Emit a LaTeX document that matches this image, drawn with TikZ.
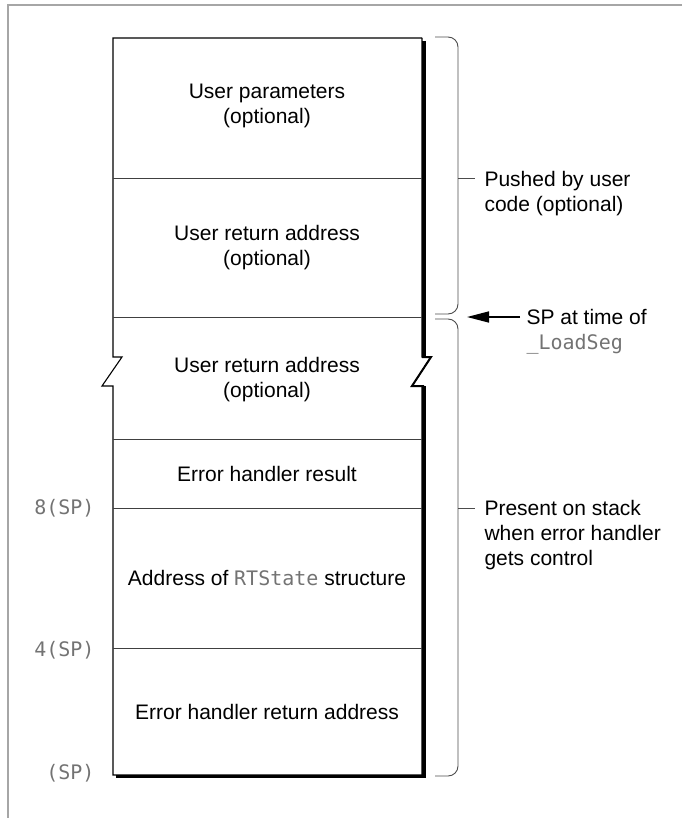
\documentclass[tikz,border=0pt]{standalone}
\usepackage{fontspec}
\setmainfont{Liberation Sans}
\newfontfamily\codefont{DejaVu Sans Mono}
\usetikzlibrary{arrows.meta}

\begin{document}
\begin{tikzpicture}[x=1pt, y=-1pt,
  font=\fontsize{21}{25}\selectfont,
  cella/.style={align=center},
  nota/.style={align=left, anchor=west},
  offs/.style={anchor=east, text=black!55, font=\fontsize{20}{24}\selectfont\codefont},
  riga/.style={draw=black!75, line width=0.9},
  graffa/.style={draw=black!70, line width=0.9, rounded corners=10}]
\useasboundingbox (0,0) rectangle (682,818);

% Cornice
\draw[black!35, line width=1.5] (682,5) -- (8,5) -- (8,818);

% Contorno della pila (con interruzione)
\draw[line width=1.1] (422,38) -- (113,38) -- (113,357) -- (122,357) -- (102,386) -- (113,386) -- (113,775) -- (422,775);
\draw[line width=1.1] (422,38) -- (422,357) -- (431,357) -- (412,386) -- (422,386) -- (422,775);

% Ombra a destra e in basso
\draw[line width=3.5] (424,41) -- (424,357);
\draw[line width=2] (422,357) -- (431,357) -- (412,386) -- (424,386);
\draw[line width=3.5] (424,386) -- (424,776.5) -- (116,776.5);

% Separatori delle celle
\draw[riga] (113,178) -- (422,178);
\draw[riga] (113,317) -- (422,317);
\draw[riga] (113,439) -- (422,439);
\draw[riga] (113,508) -- (422,508);
\draw[riga] (113,648) -- (422,648);

% Contenuto delle celle
\node[cella] (upar) at (267,106) {User parameters\\(optional)};
\node[cella] (uret) at (267,248) {User return address\\(optional)};
\node[cella] (uretb) at (267,380) {User return address\\(optional)};
\node (ehres) at (267,474) {Error handler result};
\node (rts) at (267,578) {Address of {\codefont\fontsize{20}{24}\selectfont\color{black!55}RTState} structure};
\node (ehret) at (267,712) {Error handler return address};

% Offset a sinistra
\node[offs] (o8) at (98,508) {8(SP)};
\node[offs] (o4) at (98,650) {4(SP)};
\node[offs] (o0) at (98,773) {(SP)};

% Graffa superiore
\draw[graffa] (435,37) -- (458,37) -- (458,314) -- (435,314);
\coordinate (gsu) at (458,178);
\draw[draw=black!70, line width=0.9] (gsu) -- ++(17,0);
\node[nota] (push) at (481,194) {Pushed by user\\code (optional)};

% Graffa inferiore
\draw[graffa] (435,319) -- (458,319) -- (458,776) -- (435,776);
\coordinate (ggiu) at (458,508);
\draw[draw=black!70, line width=0.9] (ggiu) -- ++(17,0);
\node[nota] (pres) at (481,535) {Present on stack\\when error handler\\gets control};

% Freccia SP
\node[nota] (sp) at (523,332) {SP at time of\\{\codefont\fontsize{20}{24}\selectfont\color{black!55}\_LoadSeg}};
\coordinate (punta) at (467,317);
\draw[line width=1.5, -{Triangle[length=22pt, width=11pt]}] (520,317) -- (punta);
\end{tikzpicture}
\end{document}
